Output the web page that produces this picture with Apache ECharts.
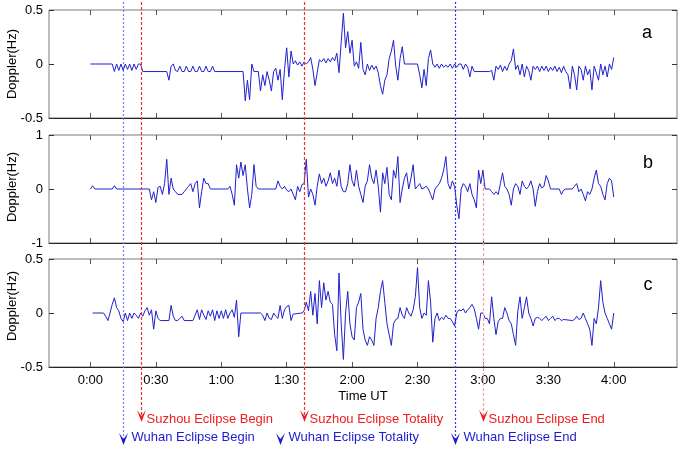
<!DOCTYPE html>
<html><head><meta charset="utf-8">
<script src="https://cdn.jsdelivr.net/npm/echarts@6/dist/echarts.min.js"></script>
<style>html,body{margin:0;padding:0;background:#fff}#c{width:683px;height:452px}</style>
</head><body><div id="c"></div>
<script>
// ---------- DATA ----------
const tickMinutes = [0, 30, 60, 90, 120, 150, 180, 210, 240];
const panelLetters = ['a', 'b', 'c'];
const yMins = [-0.5, -1, -0.5];
const yMaxs = [0.5, 1, 0.5];
const yIntervals = [0.5, 1, 0.5];

// [minute UT, Doppler Hz]
const dopplerA = [[0,0],[10,0],[11,-0.07],[12,0],[13,-0.06],[14,0],[15,-0.06],[16,0],[17,-0.05],[18,0],[19,-0.06],[20,0],[21,-0.05],[22,0],[23,0],[24,-0.07],[35,-0.07],[36,-0.15],[37,-0.02],[38,0],[39,-0.06],[40,-0.07],[41,-0.02],[42,-0.07],[43,-0.07],[44,-0.02],[45,-0.07],[46,-0.07],[47,-0.02],[48,-0.07],[49,-0.07],[50,-0.02],[51,-0.07],[52,-0.07],[53,-0.02],[54,-0.07],[55,-0.07],[56,-0.02],[57,-0.07],[70,-0.07],[71,-0.34],[72,-0.15],[73,-0.33],[74,0],[75,-0.07],[77,-0.07],[78,-0.25],[79,-0.1],[80,-0.2],[81,-0.07],[82,-0.15],[83,-0.25],[84,-0.07],[85,-0.04],[86,-0.15],[87,-0.05],[88,-0.33],[89,-0.05],[90,0.15],[91,-0.12],[92,0.12],[93,0],[94,0.03],[95,-0.01],[96,0.02],[97,-0.02],[98,0.02],[99,0],[100,0.02],[101,0.06],[102,-0.05],[103,-0.2],[104,-0.08],[105,0.04],[106,0.02],[107,0.05],[108,0.01],[109,0.05],[110,0.02],[111,0.06],[112,0.03],[113,0.1],[114,-0.08],[115,0.2],[116,0.47],[117,0.15],[118,0.3],[119,0.1],[120,0.22],[121,-0.02],[122,0.02],[123,-0.04],[124,0.2],[125,-0.05],[126,-0.1],[127,0],[128,-0.06],[129,-0.01],[130,-0.05],[131,-0.02],[132,-0.08],[133,-0.2],[134,-0.28],[135,-0.15],[136,-0.1],[137,0.05],[138,0.12],[139,0.22],[140,-0.02],[141,-0.15],[142,0.05],[143,0.16],[144,0],[150,0],[151,-0.1],[152,-0.22],[153,-0.05],[154,-0.2],[155,0.05],[156,0.13],[157,0],[158,-0.03],[159,0],[160,-0.04],[161,0],[162,-0.03],[163,-0.01],[164,-0.03],[165,0],[166,-0.04],[167,0],[168,-0.03],[169,0],[170,0],[171,-0.05],[172,0],[173,-0.03],[174,-0.12],[175,-0.02],[176,-0.07],[183,-0.07],[184,-0.06],[185,-0.15],[186,-0.02],[187,-0.05],[188,-0.01],[189,-0.07],[190,-0.02],[191,-0.06],[192,0],[193,0.03],[194,0.14],[195,-0.05],[196,-0.01],[197,-0.1],[198,0],[199,-0.12],[200,-0.02],[201,-0.06],[202,-0.15],[203,-0.02],[204,-0.05],[205,-0.02],[206,-0.07],[207,-0.02],[208,-0.06],[209,-0.02],[210,-0.07],[211,-0.03],[212,-0.06],[213,-0.02],[214,-0.07],[215,-0.03],[216,-0.08],[217,-0.02],[218,-0.07],[219,-0.1],[220,-0.23],[221,-0.02],[222,-0.1],[223,-0.24],[224,-0.02],[225,-0.05],[226,-0.15],[227,-0.02],[228,-0.1],[229,-0.05],[230,-0.24],[231,-0.02],[232,-0.08],[233,-0.15],[234,0],[235,-0.1],[236,-0.02],[237,-0.12],[238,0],[239,-0.05],[240,0.06]];

const dopplerB = [[0,0],[1,0.06],[2,0],[10,0],[11,0.06],[12,0],[27,0],[28,-0.2],[29,-0.05],[30,-0.25],[31,0.03],[32,0.05],[33,-0.1],[34,0.1],[35,0.55],[36,-0.1],[37,0.2],[38,0],[39,-0.05],[40,-0.1],[42,-0.1],[43,-0.05],[44,0],[45,0.05],[46,0.1],[47,-0.05],[48,0.1],[49,0.15],[50,-0.35],[51,-0.05],[52,0.2],[53,0.1],[54,0.1],[55,0],[63,0],[64,0.05],[65,-0.1],[66,-0.3],[67,0.45],[68,0.2],[69,0.5],[70,0.25],[71,0.45],[72,0],[73,-0.35],[74,-0.1],[75,0.45],[76,0.05],[77,0],[85,0],[86,0.15],[87,0.05],[88,0],[89,0.05],[90,-0.02],[91,-0.05],[92,0],[93,-0.1],[94,-0.2],[95,0.05],[96,-0.05],[97,0.08],[98,0.1],[99,0.55],[100,-0.15],[101,0],[102,-0.1],[103,-0.3],[104,0.05],[105,0.28],[106,0.1],[107,0.2],[108,0.05],[109,0.15],[110,0.3],[111,0.1],[112,0.2],[113,0.05],[114,0.35],[115,0.05],[116,-0.05],[117,-0.05],[118,0.1],[119,0.45],[120,0.15],[121,0.05],[122,0.35],[123,0.05],[124,-0.1],[125,-0.25],[126,0.05],[127,0.15],[128,0.45],[129,0.2],[130,0.1],[131,0.35],[132,0.05],[133,-0.43],[134,0.3],[135,0.1],[136,0.4],[137,-0.1],[138,-0.2],[139,0.35],[140,0.2],[141,0.6],[142,-0.25],[143,0],[144,0.2],[145,0.3],[146,0],[147,0.2],[148,0.45],[149,0],[150,0.05],[151,0.1],[152,0],[153,0.02],[154,0.05],[155,0],[156,-0.1],[157,-0.2],[158,0],[159,0.05],[160,0.1],[161,0.2],[162,0.35],[163,0.6],[164,0.1],[165,0],[166,0.15],[167,0.05],[168,-0.3],[169,-0.55],[170,0],[171,0.1],[172,0.05],[173,-0.05],[174,0.1],[175,-0.1],[176,-0.2],[177,-0.35],[178,0.35],[179,0.1],[180,0.35],[181,0],[183,0],[184,-0.05],[185,-0.1],[186,-0.05],[187,-0.1],[188,0.1],[189,0.3],[190,0.05],[191,0],[192,-0.1],[193,-0.3],[194,0],[195,0.1],[196,0.05],[197,-0.1],[198,0.15],[199,0.05],[200,0],[201,0.05],[202,0.15],[203,0],[204,-0.32],[205,-0.05],[206,0.1],[207,0.02],[208,0.05],[209,0.25],[210,0.15],[211,0],[215,0],[216,-0.1],[217,-0.02],[218,0],[221,0],[222,0.05],[223,0.1],[224,-0.05],[225,0],[226,-0.1],[227,-0.22],[228,-0.05],[229,-0.1],[230,0],[231,0.2],[232,0.35],[233,0.1],[234,0.05],[235,-0.1],[236,-0.2],[237,0.1],[238,0.2],[239,0.15],[240,-0.15]];

const dopplerC = [[1,0],[6,0],[7,-0.03],[8,-0.07],[9,0],[10,0.08],[11,0.14],[12,0.05],[13,0.02],[14,-0.05],[15,-0.08],[16,0],[17,-0.07],[18,0],[19,-0.05],[20,0],[21,-0.02],[22,-0.05],[23,0],[24,-0.03],[25,0.02],[26,0.05],[27,-0.02],[28,0.03],[29,-0.15],[30,0.02],[31,-0.05],[32,-0.07],[36,-0.07],[37,0.07],[38,-0.03],[39,-0.07],[40,-0.07],[41,-0.05],[42,-0.03],[43,-0.07],[47,-0.07],[48,-0.02],[49,0.03],[50,-0.06],[51,0.03],[52,-0.02],[53,-0.06],[54,0.02],[55,-0.03],[56,0.03],[57,-0.07],[58,0.02],[59,-0.05],[60,0.02],[61,-0.05],[62,0.03],[63,-0.05],[64,0],[65,0.03],[66,-0.04],[67,0.12],[68,-0.22],[69,0],[78,0],[79,-0.02],[80,-0.07],[81,0],[82,-0.05],[83,-0.06],[84,0],[85,-0.03],[86,-0.05],[87,0.07],[88,-0.05],[89,0.03],[90,0.06],[91,0.07],[92,-0.07],[93,-0.01],[97,0],[98,0.02],[99,0.1],[100,0.02],[101,0.2],[102,-0.02],[103,0.18],[104,-0.1],[105,0.3],[106,0.05],[107,0.28],[108,0.12],[109,0.2],[110,0.1],[111,0.08],[112,-0.2],[113,-0.35],[114,0.37],[115,-0.1],[116,-0.43],[117,0],[118,0.2],[119,-0.1],[120,-0.22],[121,-0.25],[122,0.05],[123,0.1],[124,0.18],[125,-0.15],[126,-0.25],[127,-0.3],[128,-0.22],[129,-0.25],[130,-0.3],[131,-0.05],[132,0.05],[133,0.2],[134,0.3],[135,0.1],[136,-0.1],[137,-0.2],[138,-0.3],[139,-0.1],[140,-0.06],[141,-0.05],[142,0.05],[143,-0.02],[144,-0.05],[145,0.05],[146,0],[147,-0.03],[148,0.03],[149,0.15],[150,0.42],[151,0.05],[152,-0.05],[153,0],[154,-0.02],[155,0.3],[156,0.1],[157,-0.27],[158,-0.05],[159,0],[160,-0.07],[161,-0.04],[162,-0.06],[163,-0.02],[164,-0.05],[165,-0.05],[166,-0.08],[167,-0.12],[168,0],[169,0.03],[170,0.02],[171,0.04],[172,0],[173,0.03],[174,0.05],[175,0.08],[176,0.04],[177,-0.05],[178,-0.15],[179,0],[180,0],[181,-0.05],[182,-0.05],[183,-0.1],[184,0.15],[185,-0.05],[186,-0.2],[187,-0.08],[188,-0.05],[189,-0.05],[190,0.05],[191,0],[192,-0.07],[193,-0.1],[194,-0.2],[195,-0.3],[196,0.02],[197,0.15],[198,-0.05],[199,0.05],[200,0.15],[201,0],[202,-0.05],[203,-0.12],[204,-0.05],[205,-0.04],[206,-0.05],[207,-0.07],[208,-0.05],[209,-0.03],[210,-0.07],[211,-0.05],[212,-0.03],[213,-0.07],[214,-0.05],[215,-0.05],[216,-0.07],[217,-0.06],[221,-0.07],[222,-0.06],[223,-0.03],[224,-0.06],[225,-0.05],[226,0],[227,-0.05],[228,-0.1],[229,-0.15],[230,-0.3],[231,-0.05],[232,-0.1],[233,0.05],[234,0.3],[235,0.1],[236,0],[237,-0.05],[238,-0.1],[239,-0.15],[240,0]];

const eventNames = ['Suzhou Eclipse Begin', 'Suzhou Eclipse Totality', 'Suzhou Eclipse End', 'Wuhan Eclipse Begin', 'Wuhan Eclipse Totality', 'Wuhan Eclipse End'];
const eventMinutes = [23, 98, 180, 15, 87, 167];
const eventCities = ['Suzhou', 'Suzhou', 'Suzhou', 'Wuhan', 'Wuhan', 'Wuhan'];

// ---------- LAYOUT / STYLE ----------
const FONT = '"Liberation Sans", Arial, Helvetica, sans-serif';
const gridTops = [10, 135, 259];
const gridH = 108;
const seriesData = [dopplerA, dopplerB, dopplerC];
const letterPos = [[647, 33], [648, 163], [648, 285]];
const ylabelY = [64, 187, 306];
const cityStyle = {
  Suzhou: { color: '#ee1c1c', tipY: 422, textY: 419, dx: 5 },
  Wuhan: { color: '#1c1cd0', tipY: 445, textY: 437, dx: 8 }
};
const eventLineTop = [2, 2, 183, 2, null, 2];
const eventLineColor = ['#f03030', '#f03030', '#f4a0a0', '#7a7aff', null, '#3434e0'];
const eventLineDash = [[3, 2], [3, 2], [3, 2], [2, 2], null, [2, 2]];

const fmtTime = v => Math.floor(v / 60) + ':' + String(v % 60).padStart(2, '0');

const chart = echarts.init(document.getElementById('c'), null, { renderer: 'canvas' });

const grids = [], xAxes = [], yAxes = [], series = [];
for (let i = 0; i < 3; i++) {
  grids.push({ left: 49, right: 6, top: gridTops[i], height: gridH, show: true, borderColor: '#7a7a7a', borderWidth: 1, backgroundColor: '#fff' });
  xAxes.push({
    gridIndex: i, type: 'value', min: -19, max: 269, position: 'bottom',
    axisLine: { show: true, onZero: false, lineStyle: { color: '#222', width: 1 } },
    axisTick: { show: true, inside: true, length: 5, customValues: tickMinutes, lineStyle: { color: '#555' } },
    axisLabel: { show: i === 2, customValues: tickMinutes, formatter: fmtTime, color: '#000', fontSize: 13, fontFamily: FONT, margin: 7 },
    splitLine: { show: false },
    name: i === 2 ? 'Time UT' : '', nameLocation: 'middle', nameGap: 23,
    nameTextStyle: { color: '#000', fontSize: 13, fontFamily: FONT }
  });
  xAxes.push({
    gridIndex: i, type: 'value', min: -19, max: 269, position: 'top',
    axisLine: { show: false, onZero: false },
    axisTick: { show: true, inside: true, length: 5, customValues: tickMinutes, lineStyle: { color: '#555' } },
    axisLabel: { show: false }, splitLine: { show: false }
  });
  yAxes.push({
    gridIndex: i, type: 'value', min: yMins[i], max: yMaxs[i], interval: yIntervals[i], position: 'left',
    axisLine: { show: false, onZero: false },
    axisTick: { show: true, inside: true, length: 5, lineStyle: { color: '#333' } },
    axisLabel: { color: '#000', fontSize: 13, fontFamily: FONT, margin: 6, formatter: v => String(v) },
    splitLine: { show: false }
  });
  yAxes.push({
    gridIndex: i, type: 'value', min: yMins[i], max: yMaxs[i], interval: yIntervals[i], position: 'right',
    axisLine: { show: false, onZero: false },
    axisTick: { show: true, inside: true, length: 5, lineStyle: { color: '#333' } },
    axisLabel: { show: false }, splitLine: { show: false }
  });
  series.push({
    type: 'line', xAxisIndex: 2 * i, yAxisIndex: 2 * i, data: seriesData[i],
    showSymbol: false, symbol: 'none', silent: true,
    lineStyle: { color: '#2020cc', width: 1 }, z: 3
  });
}

chart.setOption({
  animation: false,
  backgroundColor: '#fff',
  grid: grids, xAxis: xAxes, yAxis: yAxes, series: series
});

// ---------- annotations placed through the library's scale ----------
const graphics = [];
for (let i = 0; i < 3; i++) {
  graphics.push({
    type: 'text', x: 12, y: ylabelY[i], rotation: Math.PI / 2, z: 50,
    style: { text: 'Doppler(Hz)', fill: '#000', font: '13px ' + FONT, align: 'center', verticalAlign: 'middle' }
  });
  graphics.push({
    type: 'text', x: letterPos[i][0], y: letterPos[i][1], z: 50,
    style: { text: panelLetters[i], fill: '#000', font: '18px ' + FONT, align: 'center', verticalAlign: 'middle' }
  });
}
eventMinutes.forEach((t, k) => {
  const px = Math.round(chart.convertToPixel({ xAxisIndex: 0 }, t)) + 0.5;
  const cs = cityStyle[eventCities[k]];
  if (eventLineTop[k] !== null) {
    graphics.push({
      type: 'line', z: 40, silent: true,
      shape: { x1: px, y1: eventLineTop[k], x2: px, y2: cs.tipY - 6 },
      style: { stroke: eventLineColor[k], lineWidth: 1.2, lineDash: eventLineDash[k] }
    });
  }
  graphics.push({
    type: 'polygon', z: 41, silent: true,
    shape: { points: [[px - 4.5, cs.tipY - 12], [px, cs.tipY - 6], [px + 4.5, cs.tipY - 12], [px, cs.tipY]] },
    style: { fill: cs.color }
  });
  graphics.push({
    type: 'text', x: px + cs.dx, y: cs.textY, z: 42,
    style: { text: eventNames[k], fill: cs.color, font: '13px ' + FONT, align: 'left', verticalAlign: 'middle' }
  });
});
chart.setOption({ graphic: graphics });
</script>
</body></html>
